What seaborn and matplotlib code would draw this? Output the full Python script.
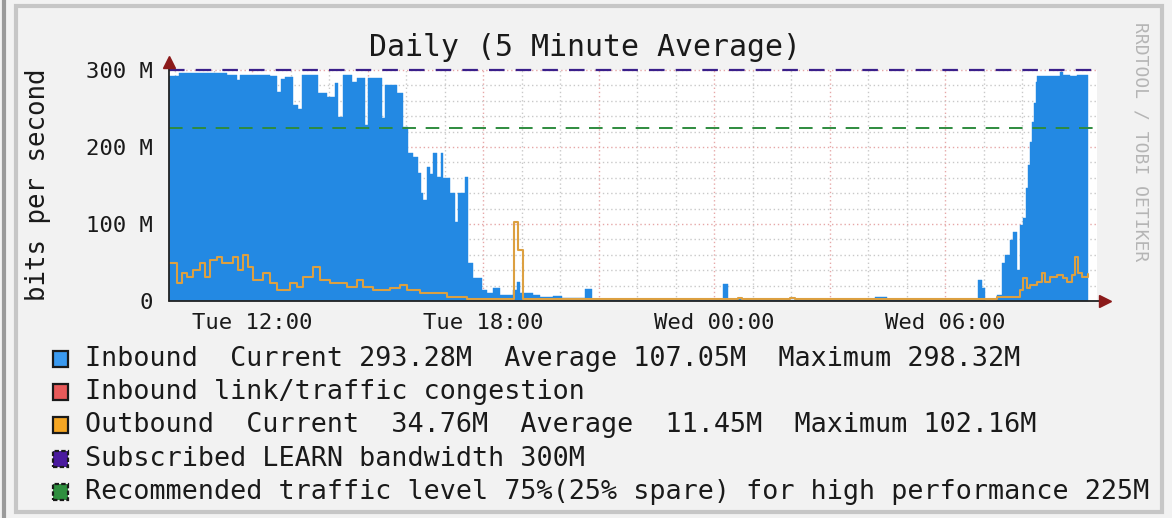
import matplotlib
matplotlib.use('Agg')
import pandas as pd
import matplotlib.pyplot as plt
import seaborn as sns
from matplotlib.patches import Rectangle
from matplotlib.lines import Line2D


# Horas desde el martes 00:00, valores en Mbit/s (5 min average)
inbound_hours = [9.84, 10.10, 11.35, 11.61, 11.69, 12.47, 12.65, 12.75, 12.86, 13.06, 13.19, 13.30,
                 13.71, 13.95, 14.16, 14.23, 14.36, 14.60, 14.73, 14.94, 15.01, 15.38, 15.45, 15.77,
                 15.92, 16.05, 16.18, 16.31, 16.39, 16.44, 16.55, 16.62, 16.70, 16.81, 16.91, 16.96,
                 17.14, 17.27, 17.35, 17.53, 17.61, 17.74, 17.97, 18.10, 18.26, 18.44, 18.78, 18.88,
                 18.96, 19.30, 19.48, 19.82, 20.05, 20.65, 20.83, 21.04, 24.23, 24.36, 25.71, 25.79,
                 28.18, 28.49, 29.27, 29.35, 30.86, 30.96, 31.04, 31.35, 31.48, 31.56, 31.69, 31.77,
                 31.87, 31.95, 32.03, 32.10, 32.16, 32.21, 32.26, 32.31, 32.36, 32.39, 32.99, 33.06,
                 33.25, 33.43, 33.71]
inbound_mbps = [292, 296, 293, 287, 294, 292, 271, 288, 291, 254, 250, 293,
                270, 265, 283, 239, 293, 285, 290, 228, 290, 238, 280, 270,
                226, 192, 187, 166, 140, 131, 174, 165, 192, 161, 192, 160,
                140, 103, 140, 161, 49, 30, 14, 10, 17, 8, 14, 25,
                10, 8, 5, 7, 4, 16, 3, 1, 22, 2, 3, 1,
                5, 1, 3, 1, 27, 17, 0, 8, 49, 60, 79, 90,
                40, 99, 108, 147, 177, 206, 232, 257, 284, 292, 297, 293,
                292, 293, 293]

outbound_hours = [9.84, 10.05, 10.18, 10.31, 10.47, 10.65, 10.78, 10.91, 11.09, 11.22, 11.51, 11.64,
                  11.77, 11.90, 12.03, 12.29, 12.47, 12.65, 12.99, 13.17, 13.32, 13.58, 13.77, 14.03,
                  14.47, 14.73, 14.88, 15.14, 15.58, 15.84, 16.03, 16.36, 17.06, 17.58, 18.81, 18.91,
                  19.04, 24.62, 24.72, 25.98, 26.10, 31.35, 31.95, 32.03, 32.13, 32.21, 32.39, 32.52,
                  32.60, 32.73, 32.91, 33.06, 33.17, 33.30, 33.38, 33.45, 33.56, 33.71]
outbound_mbps = [49, 23, 36, 31, 40, 49, 31, 53, 57, 49, 57, 40,
                 60, 44, 27, 36, 23, 14, 23, 18, 31, 44, 27, 23,
                 18, 27, 18, 14, 17, 21, 14, 10, 5, 2, 102, 66,
                 2, 4, 2, 4, 2, 5, 14, 30, 17, 21, 25, 36,
                 25, 31, 34, 30, 25, 34, 57, 36, 31, 35]

tick_hours = [12, 18, 24, 30]
tick_labels = ['Tue 12:00', 'Tue 18:00', 'Wed 00:00', 'Wed 06:00']
y_ticks = [0, 100, 200, 300]
y_labels = ['0', '100 M', '200 M', '300 M']
subscribed = 300
recommended = 225

legend_texts = ['Inbound  Current 293.28M  Average 107.05M  Maximum 298.32M',
                'Inbound link/traffic congestion',
                'Outbound  Current  34.76M  Average  11.45M  Maximum 102.16M',
                'Subscribed LEARN bandwidth 300M',
                'Recommended traffic level 75%(25% spare) for high performance 225M']
legend_colors = ['#3a9af0', '#e85a5a', '#f5a623', '#4a1a9e', '#2f8f3f']

BLUE = '#2389e3'
ORANGE = '#dca041'
W, H = 1172, 518

sns.set_theme(style='white')
plt.rcParams['font.family'] = ['DejaVu Sans Mono']

fig = plt.figure(figsize=(W / 100, H / 100), dpi=100, facecolor='#f2f2f2')
ax = fig.add_axes([169 / W, 1 - 301 / H, 928 / W, 231 / H])
ax.set_facecolor('white')

inb = pd.DataFrame({'hour': inbound_hours, 'mbps': inbound_mbps})
out = pd.DataFrame({'hour': outbound_hours, 'mbps': outbound_mbps})

ax.fill_between(inb['hour'], inb['mbps'], step='post', color=BLUE, lw=0.3, edgecolor=BLUE, zorder=3)
sns.lineplot(data=out, x='hour', y='mbps', drawstyle='steps-post', color=ORANGE,
             lw=1.5, ax=ax, zorder=4, errorbar=None)

ax.set_xlim(9.84, 33.94)
ax.set_ylim(0, 300)

# rejilla estilo rrdtool
for h in range(10, 34):
    col = '#e6a8a8' if h % 3 == 0 else '#c9c9c9'
    ax.axvline(h, color=col, ls=(0, (1, 2)), lw=1, zorder=1)
for v in range(20, 301, 20):
    col = '#e6a8a8' if v % 100 == 0 else '#c9c9c9'
    ax.axhline(v, color=col, ls=(0, (1, 2)), lw=1, zorder=1, clip_on=False)

ax.axhline(subscribed, color='#3a1f8a', ls=(0, (7, 5)), lw=1.6, zorder=5, clip_on=False)
ax.axhline(recommended, color='#2e8b3e', ls=(0, (7, 5)), lw=1.4, zorder=5)

ax.set_xticks(tick_hours)
ax.set_xticklabels(tick_labels)
ax.set_xticks(range(10, 34), minor=True)
ax.set_yticks(y_ticks)
ax.set_yticklabels(y_labels)
ax.set_yticks(range(20, 300, 20), minor=True)
ax.tick_params(axis='both', which='major', labelsize=16, length=5, width=1,
               color='#444444', direction='inout', pad=6, labelcolor='#1a1a1a')
ax.tick_params(axis='both', which='minor', length=3, width=1, color='#777777', direction='in')
ax.tick_params(axis='y', which='major', pad=9)
ax.set_xlabel('')
ax.set_ylabel('')
for s in ax.spines.values():
    s.set_visible(False)

# ejes con flechas
ax.add_line(Line2D([0, 1.0086], [0, 0], transform=ax.transAxes, color='#222222', lw=1.3,
                   clip_on=False, zorder=6))
ax.add_line(Line2D([0, 0], [0, 1.035], transform=ax.transAxes, color='#222222', lw=1.3,
                   clip_on=False, zorder=6))
ax.plot([1.0086], [0], marker='>', ms=9, color='#8b1a1a', transform=ax.transAxes, clip_on=False, zorder=7)
ax.plot([0], [1.035], marker='^', ms=9, color='#8b1a1a', transform=ax.transAxes, clip_on=False, zorder=7)

fig.text(0.499, 1 - 48 / H, 'Daily (5 Minute Average)', ha='center', va='center', fontsize=21.5,
         color='#1a1a1a')
fig.text(38 / W, 1 - 185 / H, 'bits per second', rotation=90, ha='center', va='center',
         fontsize=18.5, color='#1a1a1a')
fig.text(1140 / W, 1 - 142 / H, 'RRDTOOL / TOBI OETIKER', rotation=270, ha='center', va='center',
         fontsize=13, color='#b5b5b5')

# leyenda
for i, (txt, col) in enumerate(zip(legend_texts, legend_colors)):
    yc = 1 - (359 + 33.2 * i) / H
    ls = (0, (2, 1)) if i >= 3 else 'solid'
    fig.add_artist(Rectangle((53 / W, yc - 8 / H), 15 / W, 16 / H, transform=fig.transFigure,
                             facecolor=col, edgecolor='#1a1a1a', lw=1.6, ls=ls))
    fig.text(85 / W, yc, txt, ha='left', va='center', fontsize=19.3, color='#1a1a1a')

# marco
fig.add_artist(Rectangle((16 / W, 6 / H), 1146 / W, 506 / H, transform=fig.transFigure,
                         fill=False, edgecolor='#c6c6c6', lw=3))
fig.add_artist(Line2D([4 / W, 4 / W], [0, 1], transform=fig.transFigure, color='#9a9a9a', lw=3))

plt.savefig('out.png', dpi=100, facecolor=fig.get_facecolor())
plt.close()
